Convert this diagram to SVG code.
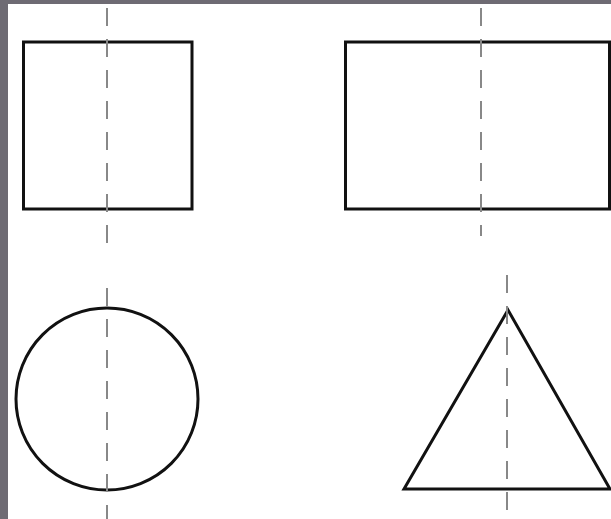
<svg xmlns="http://www.w3.org/2000/svg" width="611" height="519" viewBox="0 0 611 519">
<style>
.shape{fill:none;stroke:#111;stroke-width:3}
.axis{fill:none;stroke:#888;stroke-width:2;stroke-dasharray:18 13}
</style>
<rect x="0" y="0" width="611" height="519" fill="#fff"/>
<rect x="0" y="0" width="611" height="4" fill="#6e6b73"/>
<rect x="0" y="0" width="8" height="519" fill="#6e6b73"/>
<g id="square">
<rect class="shape" x="23.5" y="42" width="168.5" height="167"/>
</g>
<g id="rectangle">
<rect class="shape" x="345.5" y="42" width="264" height="167"/>
</g>
<g id="circle">
<circle class="shape" cx="107" cy="399" r="91"/>
</g>
<g id="triangle">
<polygon class="shape" points="508,310 404,489 610,489" stroke-linejoin="miter"/>
</g>
<g id="axes">
<line class="axis" x1="107" y1="8" x2="107" y2="246"/>
<line class="axis" x1="481" y1="8" x2="481" y2="236"/>
<line class="axis" x1="107" y1="288" x2="107" y2="519"/>
<line class="axis" x1="507" y1="275" x2="507" y2="510"/>
</g>
</svg>
